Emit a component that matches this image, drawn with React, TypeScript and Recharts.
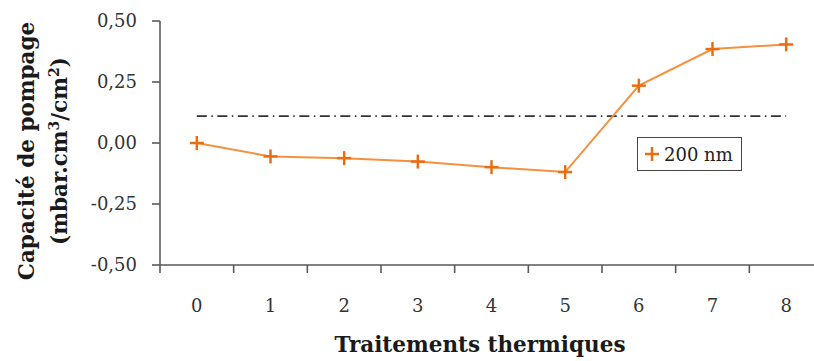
import { LineChart, Line, XAxis, YAxis, ReferenceLine, Legend } from "recharts";

const traitements = [0, 1, 2, 3, 4, 5, 6, 7, 8];
const capacite200 = [0.0, -0.055, -0.062, -0.076, -0.099, -0.119, 0.235, 0.385, 0.404];
const seuil = 0.11;
const yTicks = [-0.5, -0.25, 0, 0.25, 0.5];
const serieLabel = "200 nm";

const data = traitements.map((t, i) => ({ t, v: capacite200[i] }));
const bandTicks = [...traitements.map((t) => t - 0.5), 8.5];

const AXIS = "#5a5a5a";
const ORANGE_LINE = "#f4913f";
const ORANGE_MARK = "#ec6c12";
const FONT = "'DejaVu Serif', serif";

const PlusDot = (props: any) => {
  const { cx, cy, index } = props;
  if (cx == null || cy == null) return null;
  return (
    <g key={index}>
      <line x1={cx - 7} x2={cx + 7} y1={cy} y2={cy} stroke={ORANGE_MARK} strokeWidth={2.5} />
      <line x1={cx} x2={cx} y1={cy - 7} y2={cy + 7} stroke={ORANGE_MARK} strokeWidth={2.5} />
    </g>
  );
};

const YTitle = () => {
  const cy = 151;
  return (
    <g fontFamily={FONT} fontWeight="bold" fontSize={21.5} fill="#1a1a1a">
      <text x={34} y={cy} transform={`rotate(-90 34 ${cy})`} textAnchor="middle">
        Capacité de pompage
      </text>
      <text x={67} y={cy} transform={`rotate(-90 67 ${cy})`} textAnchor="middle">
        (mbar.cm<tspan dy={-8} fontSize={14}>3</tspan>
        <tspan dy={8}>/cm</tspan>
        <tspan dy={-8} fontSize={14}>2</tspan>
        <tspan dy={8}>)</tspan>
      </text>
    </g>
  );
};

const XTitle = () => (
  <text x={480} y={352} textAnchor="middle" fontFamily={FONT} fontWeight="bold" fontSize={21.5} fill="#1a1a1a">
    Traitements thermiques
  </text>
);

const LegendBox = () => (
  <div
    style={{
      border: "1.5px solid #444",
      background: "#fff",
      width: 105,
      height: 34,
      boxSizing: "border-box",
      display: "flex",
      alignItems: "center",
      paddingLeft: 5,
      fontFamily: FONT,
      fontSize: 18,
      color: "#222",
    }}
  >
    <svg width={18} height={18} style={{ marginRight: 3 }}>
      <line x1={2} x2={16} y1={9} y2={9} stroke={ORANGE_MARK} strokeWidth={2.5} />
      <line x1={9} x2={9} y1={2} y2={16} stroke={ORANGE_MARK} strokeWidth={2.5} />
    </svg>
    {serieLabel}
  </div>
);

export default function App() {
  return (
    <div style={{ position: "absolute", left: 0, top: 0, width: 814, height: 361, overflow: "hidden", background: "#fff" }}>
      <LineChart width={823} height={361} data={data} margin={{ top: 21, right: 0, left: 0, bottom: 0 }}>
        <XAxis
          dataKey="t"
          type="number"
          domain={[-0.5, 8.5]}
          ticks={bandTicks}
          interval={0}
          tickFormatter={() => ""}
          tickSize={8}
          height={10}
          stroke={AXIS}
          strokeWidth={1.6}
          allowDataOverflow
        />
        <XAxis
          xAxisId="lab"
          dataKey="t"
          type="number"
          domain={[-0.5, 8.5]}
          ticks={traitements}
          interval={0}
          axisLine={false}
          tickLine={false}
          tickSize={0}
          tickMargin={24}
          height={86}
          tick={{ fill: "#333", fontFamily: FONT, fontSize: 18 }}
          label={{ content: XTitle }}
        />
        <YAxis
          type="number"
          domain={[-0.5, 0.5]}
          ticks={yTicks}
          interval={0}
          width={160}
          tickSize={8}
          tickMargin={15}
          stroke={AXIS}
          strokeWidth={1.6}
          tick={{ fill: "#333", fontFamily: FONT, fontSize: 18 }}
          tickFormatter={(v: number) => v.toFixed(2).replace(".", ",")}
          label={{ content: YTitle }}
        />
        <ReferenceLine
          segment={[
            { x: traitements[0], y: seuil },
            { x: traitements[traitements.length - 1], y: seuil },
          ]}
          stroke="#333"
          strokeWidth={1.6}
          strokeDasharray="10 4.5 1.5 4.5"
        />
        <Line
          dataKey="v"
          stroke={ORANGE_LINE}
          strokeWidth={2}
          dot={PlusDot}
          activeDot={false}
          isAnimationActive={false}
        />
        <Legend
          layout="horizontal"
          verticalAlign="middle"
          align="center"
          content={LegendBox}
          wrapperStyle={{ left: 637, top: 137, width: 105, height: 34 }}
        />
      </LineChart>
    </div>
  );
}
